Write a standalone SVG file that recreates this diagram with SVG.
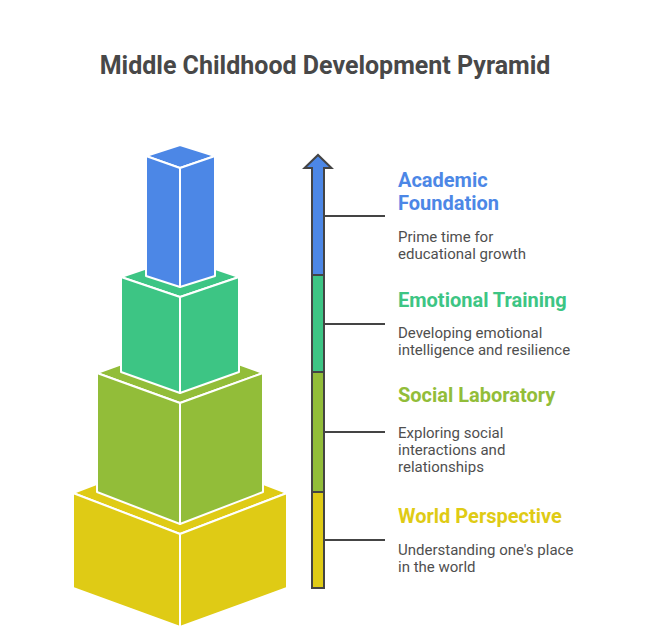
<svg xmlns="http://www.w3.org/2000/svg" width="648" height="634" viewBox="0 0 648 634">
<style>
.face{stroke:#ffffff;stroke-width:2;stroke-linejoin:round}
.b{fill:#4C87E6}.g{fill:#3DC584}.o{fill:#92BD39}.y{fill:#DFCB15}
.title{font-family:Roboto,"Liberation Sans",sans-serif;font-weight:bold;font-size:25px;fill:#484848}
.h{font-family:Roboto,"Liberation Sans",sans-serif;font-weight:bold;font-size:20px}
.t{font-family:Roboto,"Liberation Sans",sans-serif;font-size:15px;fill:#4F4F4F}
.ln{stroke:#444444;stroke-width:2;fill:none}
</style>
<rect width="648" height="634" fill="#ffffff"/>
<text class="title" x="325" y="74" text-anchor="middle">Middle Childhood Development Pyramid</text>

<g id="level-world">
<polygon class="face y" points="180,452 287,493 180,534 73,493"/>
<polygon class="face y" points="73,493 180,534 180,627 73,588"/>
<polygon class="face y" points="180,534 287,493 287,588 180,627"/>
</g>
<g id="level-social">
<polygon class="face o" points="180,343 263,373 180,403 97,373"/>
<polygon class="face o" points="97,373 180,403 180,524 97,492"/>
<polygon class="face o" points="180,403 263,373 263,492 180,524"/>
</g>
<g id="level-emotional">
<polygon class="face g" points="180,257 239,277 180,297 121,277"/>
<polygon class="face g" points="121,277 180,297 180,393 121,372"/>
<polygon class="face g" points="180,297 239,277 239,372 180,393"/>
</g>
<g id="level-academic">
<polygon class="face b" points="180,145 215,156 180,168 146,156"/>
<polygon class="face b" points="146,156 180,168 180,287 146,276"/>
<polygon class="face b" points="180,168 215,156 215,276 180,287"/>
</g>

<g id="scale-arrow">
<rect x="312" y="168" width="12" height="107" class="b"/>
<rect x="312" y="275" width="12" height="97" class="g"/>
<rect x="312" y="372" width="12" height="120" class="o"/>
<rect x="312" y="492" width="12" height="96" class="y"/>
<polygon points="304.5,168 318,155 331.5,168" class="b"/>
<path class="ln" d="M312,588 V168 H304.5 L318,155 L331.5,168 H324 V588 Z" stroke-linejoin="miter"/>
<path class="ln" d="M312,275 H324 M312,372 H324 M312,492 H324"/>
</g>

<g id="connectors">
<line class="ln" x1="324" y1="216" x2="385" y2="216"/>
<line class="ln" x1="324" y1="324" x2="385" y2="324"/>
<line class="ln" x1="324" y1="432" x2="385" y2="432"/>
<line class="ln" x1="324" y1="540" x2="385" y2="540"/>
</g>

<g id="label-academic">
<text class="h" x="398" y="187" fill="#4C87E6">Academic</text>
<text class="h" x="398" y="210" fill="#4C87E6">Foundation</text>
<text class="t" x="398" y="242">Prime time for</text>
<text class="t" x="398" y="259">educational growth</text>
</g>
<g id="label-emotional">
<text class="h" x="398" y="307" fill="#3DC584">Emotional Training</text>
<text class="t" x="398" y="338">Developing emotional</text>
<text class="t" x="398" y="355">intelligence and resilience</text>
</g>
<g id="label-social">
<text class="h" x="398" y="402" fill="#92BD39">Social Laboratory</text>
<text class="t" x="398" y="438">Exploring social</text>
<text class="t" x="398" y="455">interactions and</text>
<text class="t" x="398" y="472">relationships</text>
</g>
<g id="label-world">
<text class="h" x="398" y="523" fill="#DFCB15">World Perspective</text>
<text class="t" x="398" y="555">Understanding one's place</text>
<text class="t" x="398" y="572">in the world</text>
</g>
</svg>
